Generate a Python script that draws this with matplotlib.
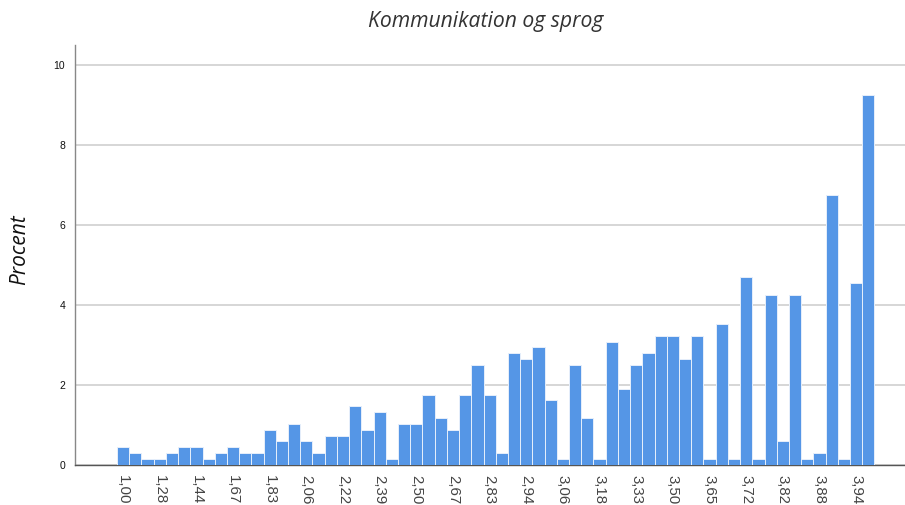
import matplotlib
matplotlib.use("Agg")
import matplotlib.pyplot as plt
import numpy as np

# Bar heights in percent (62 bars, left to right)
percent = [0.44, 0.29, 0.15, 0.15, 0.29, 0.44, 0.44, 0.15, 0.29, 0.44,
           0.29, 0.29, 0.88, 0.59, 1.03, 0.59, 0.29, 0.73, 0.73, 1.47,
           0.88, 1.32, 0.15, 1.03, 1.03, 1.76, 1.17, 0.88, 1.76, 2.50,
           1.76, 0.29, 2.79, 2.64, 2.94, 1.62, 0.15, 2.50, 1.17, 0.15,
           3.08, 1.91, 2.50, 2.79, 3.23, 3.23, 2.64, 3.23, 0.15, 3.52,
           0.15, 4.70, 0.15, 4.26, 0.59, 4.26, 0.15, 0.29, 6.75, 0.15,
           4.55, 9.25]

# Tick labels shown under every third bar
tick_labels = ["1,00", "1,28", "1,44", "1,67", "1,83", "2,06", "2,22", "2,39",
               "2,50", "2,67", "2,83", "2,94", "3,06", "3,18", "3,33", "3,50",
               "3,65", "3,72", "3,82", "3,88", "3,94"]

title = "Kommunikation og sprog"
ylabel = "Procent"

fig = plt.figure(figsize=(9.05, 5.05), dpi=100)
ax = fig.add_axes([75/905, 1 - 465/505, 1 - 75/905, (465 - 45)/505])

x = np.arange(len(percent))
ax.bar(x, percent, width=1.0, color="#5596e6", edgecolor="#e6effb", linewidth=0.7, zorder=3)

ax.set_xlim(-3.94, 64.0)
ax.set_ylim(0, 10.5)
ax.set_yticks([0, 2, 4, 6, 8, 10])
ax.yaxis.grid(True, color="#d3d3d3", linewidth=1.3, zorder=0)
ax.set_axisbelow(True)

ax.set_xticks(x[::3])
ax.set_xticklabels(tick_labels, rotation=-90, fontsize=10.8, color="#444444",
                   family="Liberation Sans", va="top", ha="center")
ax.tick_params(axis="x", length=0, pad=7)
ax.tick_params(axis="y", length=0, pad=7, labelsize=7.5, labelcolor="#111111")
for lab in ax.get_yticklabels():
    lab.set_family("Liberation Sans")

for s in ["top", "right"]:
    ax.spines[s].set_visible(False)
ax.spines["left"].set_color("#888888")
ax.spines["left"].set_linewidth(1.0)
ax.spines["bottom"].set_color("#555555")
ax.spines["bottom"].set_linewidth(1.0)

fig.text(486/905, 1 - 22/505, title, ha="center", va="center",
         fontsize=15.2, style="italic", family="Open Sans", color="#333333")
fig.text(20/905, 1 - 250/505, ylabel, ha="center", va="center", rotation=90,
         fontsize=15, style="italic", family="Open Sans", color="#111111")

fig.savefig("out.png", dpi=100)
